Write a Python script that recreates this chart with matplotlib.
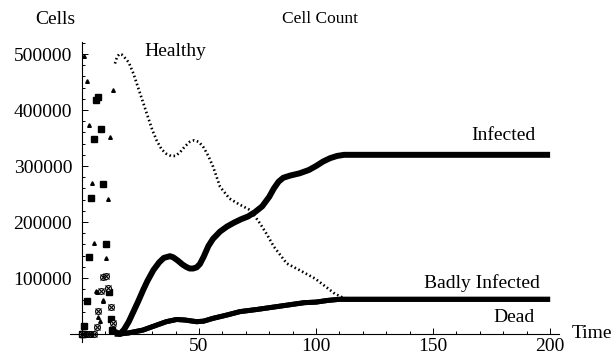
import numpy as np
import matplotlib.pyplot as plt

plt.rcParams['font.family'] = ['Liberation Serif', 'DejaVu Serif']

# ---- data (values in thousands of cells, time in days) ----
# main curves
healthy_t = [14.1, 15, 16, 17, 18, 20, 22, 24, 26, 28, 30, 32, 34, 36, 38, 40, 42, 44, 46, 48,
             50, 52, 54, 56, 59, 63, 67, 72, 76, 79, 82, 87.5, 93, 99.6, 104, 108, 112, 120, 200]
healthy_v = [483, 495, 500, 499, 495, 485, 465, 440, 415, 390, 365, 345, 330, 322, 318, 318, 325, 335, 343, 346,
             343, 333, 318, 299, 263, 242, 232, 221, 198, 178, 156, 126, 114, 99, 85, 72, 64, 62, 62]

infected_t = [13.5, 16.2, 18, 20, 22, 24, 26.2, 28, 30.5, 33, 35, 37.6, 39, 41, 43, 44.5, 46, 47.5,
              49, 50.4, 52, 54, 56, 59, 62, 65, 68, 71, 74, 77, 80, 82, 84, 86, 89, 93, 97,
              100, 103, 106, 109, 112, 200]
infected_v = [5, 0, 8, 22, 40, 58, 79, 95, 114, 128, 136, 139, 137, 131, 124, 120, 117, 117,
              119, 125, 138, 157, 170, 183, 192, 199, 205, 210, 218, 228, 245, 260, 272, 279, 283, 287, 293,
              300, 308, 314, 318, 320, 320]

badly_t = [14, 16, 20, 26, 32, 36, 40.5, 44, 49, 52, 56, 62, 67.5, 75, 85, 95, 100, 105, 110, 200]
badly_v = [0, 0, 2, 7, 16, 22, 26, 25, 22, 23, 28, 34, 40, 44, 50, 56, 57, 60, 62, 62]
dead_t = badly_t
dead_v = badly_v

# stray early points near t = 0..14
tri_t = [0.9, 2, 3.1, 4.1, 5.1, 6.1, 6.5, 7, 7.7, 8.8, 9.1, 10.1, 11, 12.1, 13.1]
tri_v = [496, 452, 374, 269, 162, 77, 75, 30, 23, 59, 60, 135, 241, 351, 435]
sq_t = [0, 0.5, 1, 2.3, 3, 3.8, 5.2, 6.1, 6.8, 8.2, 9.1, 10.1, 11.4, 12.3, 12.8]
sq_v = [0, 0, 15, 59, 137, 243, 348, 418, 424, 367, 268, 160, 75, 27, 7]
ox_t = [0, 1, 2, 3, 4, 5.3, 6.4, 7, 8, 9.2, 10.1, 11.2, 12.4, 13.4]
ox_v = [0, 0, 0, 0, 0, 0, 13, 41, 77, 102, 104, 83, 48, 19]

k = 1000.0
fig = plt.figure(figsize=(6.15, 3.6), dpi=100)
ax = fig.add_axes([70 / 615, 1 - 341.7 / 360, (559 - 70) / 615, (341.7 - 41.7) / 360])

ax.plot(healthy_t, np.array(healthy_v) * k, color='black', lw=1.9, ls=(0, (0.6, 1.0)))
ax.plot(infected_t, np.array(infected_v) * k, color='black', lw=4.3, solid_capstyle='butt')
ax.plot(badly_t, np.array(badly_v) * k, color='black', lw=3.6, solid_capstyle='butt')
ax.plot(dead_t, np.array(dead_v) * k, color='black', lw=3.6, solid_capstyle='butt')

ax.plot(tri_t, np.array(tri_v) * k, ls='none', marker='^', ms=2.6, color='black')
ax.plot(sq_t, np.array(sq_v) * k, ls='none', marker='s', ms=4.5, color='black')
ax.plot(ox_t, np.array(ox_v) * k, ls='none', marker='o', ms=4.2, mfc='white', mec='black', mew=0.8)
ax.plot(ox_t, np.array(ox_v) * k, ls='none', marker='x', ms=4.2, color='black', mew=0.8)

ax.set_xlim(-5.1, 203.8)
ax.set_ylim(-13700, 522000)
ax.spines['left'].set_position(('data', 0))
ax.spines['bottom'].set_position(('data', 0))
ax.spines['top'].set_visible(False)
ax.spines['right'].set_visible(False)
for s in ('left', 'bottom'):
    ax.spines[s].set_linewidth(0.8)

ax.set_xticks([50, 100, 150, 200])
ax.set_xticks(np.arange(10, 201, 10), minor=True)
ax.set_yticks([100000, 200000, 300000, 400000, 500000])
ax.set_yticks(np.arange(20000, 520001, 20000), minor=True)
ax.set_xticklabels(['50', '100', '150', '200'])
ax.set_yticklabels(['100000', '200000', '300000', '400000', '500000'])
ax.tick_params(which='both', direction='in', width=0.7, labelsize=14)
ax.tick_params(which='major', length=4.5)
ax.tick_params(which='minor', length=2.5)
ax.tick_params(axis='x', pad=3)
ax.tick_params(axis='y', pad=7)

fs = 14
fig.text(55 / 615, 1 - 19 / 360, 'Cells', fontsize=fs, ha='center', va='center')
fig.text(320 / 615, 1 - 19 / 360, 'Cell Count', fontsize=12.5, ha='center', va='center')
fig.text(144 / 615, 1 - 52 / 360, 'Healthy', fontsize=fs, ha='left', va='center')
fig.text(536 / 615, 1 - 135 / 360, 'Infected', fontsize=fs, ha='right', va='center')
fig.text(540 / 615, 1 - 283 / 360, 'Badly Infected', fontsize=fs, ha='right', va='center')
fig.text(535 / 615, 1 - 318 / 360, 'Dead', fontsize=fs, ha='right', va='center')
fig.text(572 / 615, 1 - 334 / 360, 'Time', fontsize=fs, ha='left', va='center')

fig.savefig('out.png', dpi=100)
